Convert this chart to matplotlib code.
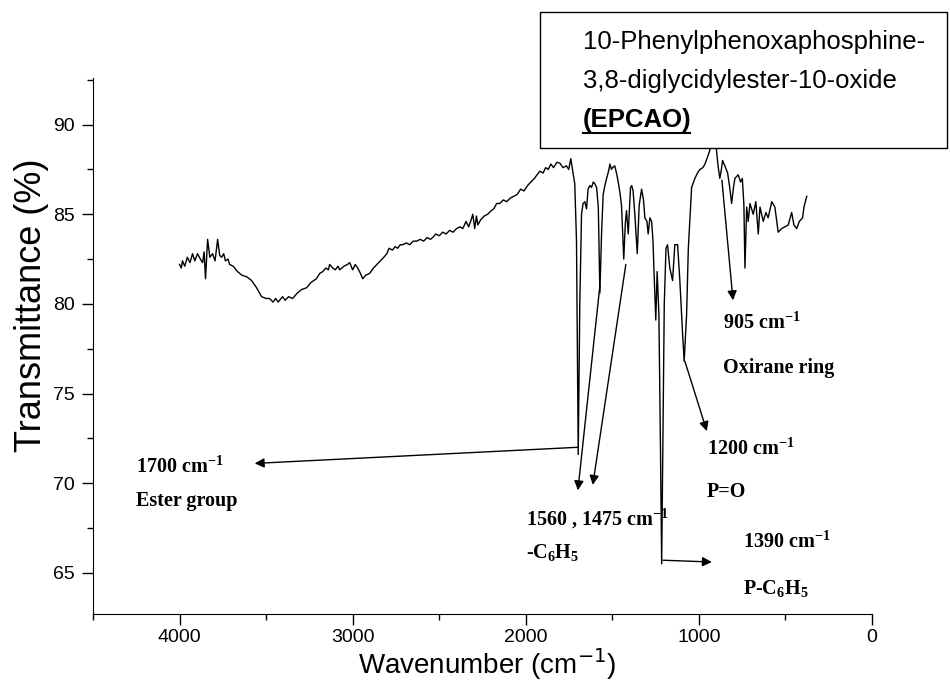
import matplotlib
matplotlib.use("Agg")
import matplotlib.pyplot as plt
from matplotlib.patches import Rectangle
from matplotlib.ticker import MultipleLocator

# FTIR spectrum of EPCAO
wavenumber = [
    4000, 3990, 3983, 3970, 3955, 3940, 3925, 3912, 3896, 3880, 3867, 3858,
    3850, 3838, 3825, 3809, 3795, 3780, 3768, 3757, 3745, 3735, 3720, 3711,
    3690, 3665, 3640, 3610, 3584, 3555, 3526, 3500, 3480, 3460, 3445, 3430,
    3422, 3405, 3390, 3370, 3347, 3320, 3295, 3266, 3240, 3210, 3190, 3173,
    3155, 3140, 3133, 3115, 3100, 3085, 3075, 3050, 3030, 3017, 3000, 2985,
    2971, 2955, 2942, 2925, 2902, 2880, 2860, 2840, 2820, 2803, 2790, 2770,
    2755, 2740, 2725, 2711, 2690, 2670, 2650, 2630, 2610, 2590, 2570, 2550,
    2538, 2520, 2500, 2480, 2460, 2440, 2420, 2400, 2380, 2364, 2345, 2330,
    2315, 2306, 2295, 2285, 2277, 2260, 2240, 2220, 2200, 2185, 2168, 2150,
    2130, 2110, 2090, 2070, 2050, 2030, 2010, 1990, 1970, 1950, 1935, 1919,
    1900, 1885, 1870, 1855, 1840, 1820, 1803, 1785, 1765, 1752, 1740, 1727,
    1717, 1707, 1697, 1688, 1678, 1669, 1659, 1649, 1640, 1630, 1620, 1610,
    1601, 1591, 1581, 1572, 1562, 1553, 1543, 1533, 1522, 1514, 1505, 1499,
    1486, 1476, 1466, 1456, 1447, 1434, 1425, 1418, 1408, 1395, 1388, 1380,
    1370, 1356, 1345, 1331, 1320, 1312, 1300, 1293, 1283, 1273, 1265, 1260,
    1249, 1241, 1231, 1222, 1215, 1208, 1200, 1190, 1181, 1168, 1152, 1139,
    1123, 1110, 1094, 1085, 1071, 1061, 1042, 1023, 1008, 994, 977, 965,
    946, 936, 920, 902, 888, 879, 870, 863, 850, 834, 822, 811,
    800, 792, 773, 759, 749, 740, 734, 724, 715, 705, 686, 671,
    657, 647, 628, 613, 600, 579, 561, 542, 522, 503, 484, 464,
    451, 435, 420, 401, 393, 377,
]
transmittance = [
    82.2, 82.0, 82.4, 82.1, 82.6, 82.3, 82.8, 82.4, 82.8, 82.5, 82.3, 82.9,
    81.4, 83.6, 82.6, 82.8, 82.4, 83.6, 82.7, 82.6, 82.8, 82.4, 82.5, 82.2,
    82.1, 81.8, 81.6, 81.5, 81.3, 80.9, 80.4, 80.3, 80.3, 80.1, 80.3, 80.1,
    80.2, 80.4, 80.2, 80.4, 80.3, 80.6, 80.8, 80.9, 81.2, 81.4, 81.7, 81.8,
    82.0, 81.9, 82.2, 82.0, 81.9, 82.1, 81.9, 82.1, 82.2, 82.3, 81.9, 82.2,
    82.0, 81.7, 81.4, 81.6, 81.7, 82.0, 82.2, 82.4, 82.6, 82.8, 83.1, 83.0,
    83.2, 83.1, 83.3, 83.3, 83.4, 83.3, 83.5, 83.5, 83.6, 83.5, 83.7, 83.6,
    83.7, 83.9, 83.8, 84.0, 83.9, 84.1, 84.0, 84.2, 84.3, 84.2, 84.6, 84.3,
    84.7, 85.0, 84.2, 84.9, 84.4, 84.7, 84.9, 85.0, 85.2, 85.3, 85.6, 85.6,
    85.8, 85.7, 85.9, 86.0, 86.1, 86.4, 86.3, 86.6, 86.8, 87.0, 87.2, 87.4,
    87.3, 87.6, 87.5, 87.8, 87.6, 87.9, 87.85, 87.6, 87.7, 87.5, 88.1, 87.3,
    86.7, 83.5, 71.6, 80.0, 85.0, 85.6, 85.7, 85.3, 86.4, 86.6, 86.5, 86.8,
    86.7, 86.5, 85.4, 80.6, 84.0, 86.1, 86.6, 87.0, 87.4, 87.8, 87.5, 87.6,
    87.7, 87.3, 86.8, 86.2, 85.5, 82.5, 84.5, 85.2, 83.9, 86.5, 86.6, 86.3,
    85.0, 82.8, 85.5, 86.4, 85.8, 84.8, 84.6, 83.9, 84.8, 84.6, 83.5, 82.0,
    79.1, 81.8, 79.4, 72.0, 65.5, 72.0, 80.0, 83.1, 83.3, 82.0, 81.3, 83.3,
    83.3, 81.3, 78.3, 76.8, 79.4, 83.1, 86.5, 87.0, 87.3, 87.5, 87.6, 87.8,
    88.3, 88.6, 89.5, 88.9, 87.6, 87.0, 87.5, 88.0, 87.7, 87.3, 86.5, 85.6,
    86.5, 87.0, 87.2, 86.8, 87.0, 85.5, 82.0, 85.4, 84.6, 85.6, 85.0, 85.7,
    83.9, 85.4, 84.6, 85.1, 84.8, 85.7, 85.4, 84.0, 84.2, 84.3, 84.4, 85.1,
    84.4, 84.2, 84.6, 84.8, 85.4, 86.0,
]

x_ticks = [4000, 3000, 2000, 1000, 0]
y_ticks = [65, 70, 75, 80, 85, 90]

title_lines = ["10-Phenylphenoxaphosphine-", "3,8-diglycidylester-10-oxide", "(EPCAO)"]

# label line 1, label line 2, text x, text y, gap to line 2 (data units)
labels = [
    (r"1700 cm$^{-1}$", "Ester group", 4249, 70.9, 1.9),
    (r"1560 , 1475 cm$^{-1}$", r"-C$_6$H$_5$", 2000, 68.0, 1.85),
    (r"1200 cm$^{-1}$", "P=O", 954, 71.9, 2.4),
    (r"1390 cm$^{-1}$", r"P-C$_6$H$_5$", 746, 66.7, 2.55),
    (r"905 cm$^{-1}$", "Oxirane ring", 861, 78.9, 2.5),
]
# arrow start (on the band), arrow tip (near the label)
arrows = [
    ((1699, 72.0), (3566, 71.1)),
    ((1572, 81.0), (1699, 69.6)),
    ((1422, 82.2), (1613, 69.9)),
    ((1081, 76.8), (954, 72.9)),
    ((1208, 65.7), (925, 65.6)),
    ((867, 86.9), (803, 80.2)),
]

plt.rcParams["font.family"] = ["Liberation Sans", "DejaVu Sans"]
plt.rcParams["mathtext.fontset"] = "custom"
plt.rcParams["mathtext.rm"] = "Liberation Serif:bold"
plt.rcParams["mathtext.it"] = "Liberation Serif:bold"
plt.rcParams["mathtext.bf"] = "Liberation Serif:bold"

W, H = 950, 684
fig = plt.figure(figsize=(W / 100, H / 100), dpi=100)
ax = fig.add_axes([93 / W, 1 - 614 / H, (872 - 93) / W, (614 - 78) / H])

ax.plot(wavenumber, transmittance, color="black", linewidth=1.0)

ax.set_xlim(4500, 0)
ax.set_ylim(62.7, 92.6)
ax.set_xticks(x_ticks)
ax.set_yticks(y_ticks)
ax.xaxis.set_minor_locator(MultipleLocator(500))
ax.yaxis.set_minor_locator(MultipleLocator(2.5))
ax.tick_params(which="major", direction="out", length=8, width=1, labelsize=14, pad=5)
ax.tick_params(axis="x", which="major", pad=3)
ax.tick_params(which="minor", direction="out", length=4, width=1)
for spine in ["top", "right"]:
    ax.spines[spine].set_visible(False)

ax.set_xlabel(r"Wavenumber (cm$^{-1}$)", fontsize=20, math_fontfamily="dejavusans")
ax.xaxis.set_label_coords(0.506, -0.060)
ax.set_ylabel("Transmittance (%)", fontsize=26)
ax.yaxis.set_label_coords(-0.056, 0.576)

serif = dict(family="Liberation Serif", weight="bold", fontsize=14.5, va="center", ha="left")
for line1, line2, tx, ty, gap in labels:
    ax.text(tx, ty, line1, **serif)
    ax.text(tx, ty - gap, line2, **serif)
for start, tip in arrows:
    ax.annotate("", xy=tip, xytext=start,
                arrowprops=dict(arrowstyle="-|>", color="black", lw=1,
                                mutation_scale=14, shrinkA=0, shrinkB=0))

# title box, drawn on top of the spectrum
fig.patches.append(Rectangle((540 / W, 1 - 148 / H), (947 - 540) / W, (148 - 12) / H,
                             transform=fig.transFigure, facecolor="white",
                             edgecolor="black", linewidth=1, zorder=5))
for i, line in enumerate(title_lines):
    fig.text(583 / W, 1 - (42 + 39 * i) / H, line, fontsize=18.5,
             va="center", ha="left", zorder=6,
             weight="bold" if i == 2 else "normal")
underline_y = 1 - 133 / H
fig.add_artist(plt.Line2D([583 / W, 690 / W], [underline_y, underline_y],
                          color="black", linewidth=1.5, zorder=6))

fig.savefig("out.png", dpi=100)
